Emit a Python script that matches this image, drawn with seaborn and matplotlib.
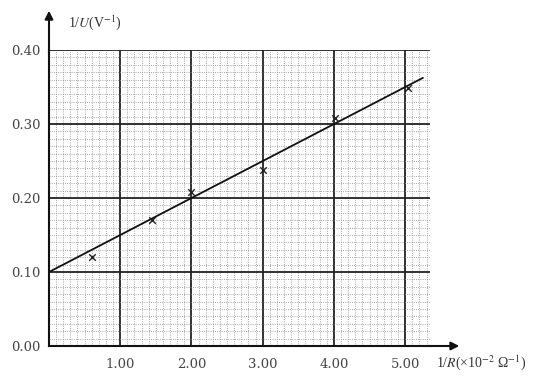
import matplotlib
matplotlib.use('Agg')
import matplotlib.pyplot as plt
import seaborn as sns
import numpy as np
import pandas as pd

# measured points (x in 1e-2 / ohm, y in 1/V)
inv_r = [0.60, 1.45, 2.00, 3.00, 4.02, 5.04]
inv_u = [0.120, 0.170, 0.208, 0.238, 0.308, 0.349]

# fitted straight line
fit_x = [0.0, 5.25]
fit_y = [0.100, 0.3625]

x_ticks = [1.0, 2.0, 3.0, 4.0, 5.0]
x_tick_labels = ['1.00', '2.00', '3.00', '4.00', '5.00']
y_ticks = [0.0, 0.1, 0.2, 0.3, 0.4]
y_tick_labels = ['0.00', '0.10', '0.20', '0.30', '0.40']

sns.set_style('white')
plt.rcParams['font.family'] = ['DejaVu Serif']
plt.rcParams['mathtext.fontset'] = 'stix'

fig = plt.figure(figsize=(5.39, 3.76), dpi=100)
ax = fig.add_axes([0.0909, 0.0798, 0.707, 0.787])
ax.set_xlim(0, 5.35)
ax.set_ylim(0, 0.40)

# graph-paper grid
ax.set_xticks(np.arange(0, 5.36, 0.1), minor=True)
ax.set_yticks(np.arange(0, 0.401, 0.01), minor=True)
ax.grid(which='minor', color='#888888', linestyle=':', linewidth=0.6)
ax.grid(which='major', color='#222222', linestyle='-', linewidth=1.3)
ax.set_xticks(x_ticks)
ax.set_xticklabels(x_tick_labels)
ax.set_yticks(y_ticks)
ax.set_yticklabels(y_tick_labels)
ax.tick_params(which='both', length=0, labelsize=9.5, colors='#444444')
ax.tick_params(axis='x', pad=9)
ax.tick_params(axis='y', pad=6)
ax.set_axisbelow(True)

for s in ['top', 'right']:
    ax.spines[s].set_visible(False)
ax.spines['left'].set_linewidth(1.5)
ax.spines['bottom'].set_linewidth(1.5)
ax.spines['left'].set_color('#111111')
ax.spines['bottom'].set_color('#111111')

# axis arrows
ax.annotate('', xy=(5.8, 0), xytext=(5.3, 0), annotation_clip=False,
            arrowprops=dict(arrowstyle='-|>', color='#111111', lw=1.5, mutation_scale=12))
ax.annotate('', xy=(0, 0.457), xytext=(0, 0.39), annotation_clip=False,
            arrowprops=dict(arrowstyle='-|>', color='#111111', lw=1.5, mutation_scale=12))

sns.lineplot(x=fit_x, y=fit_y, ax=ax, color='#111111', linewidth=1.3)
pts = pd.DataFrame({'x': inv_r, 'y': inv_u})
sns.scatterplot(data=pts, x='x', y='y', ax=ax, marker='x', color='#222222',
                s=22, linewidth=1.0, zorder=5)

ax.set_xlabel('')
ax.set_ylabel('')
ax.text(0.27, 0.437, r'1/$U$(V$^{-1}$)', fontsize=10, color='#333333',
        family='Liberation Serif', ha='left', va='center', clip_on=False)
ax.text(5.43, -0.022, r'1/$R$(×10$^{-2}$ Ω$^{-1}$)', fontsize=10, color='#333333',
        family='Liberation Serif', ha='left', va='center', clip_on=False)

fig.savefig('out.png', dpi=100)
